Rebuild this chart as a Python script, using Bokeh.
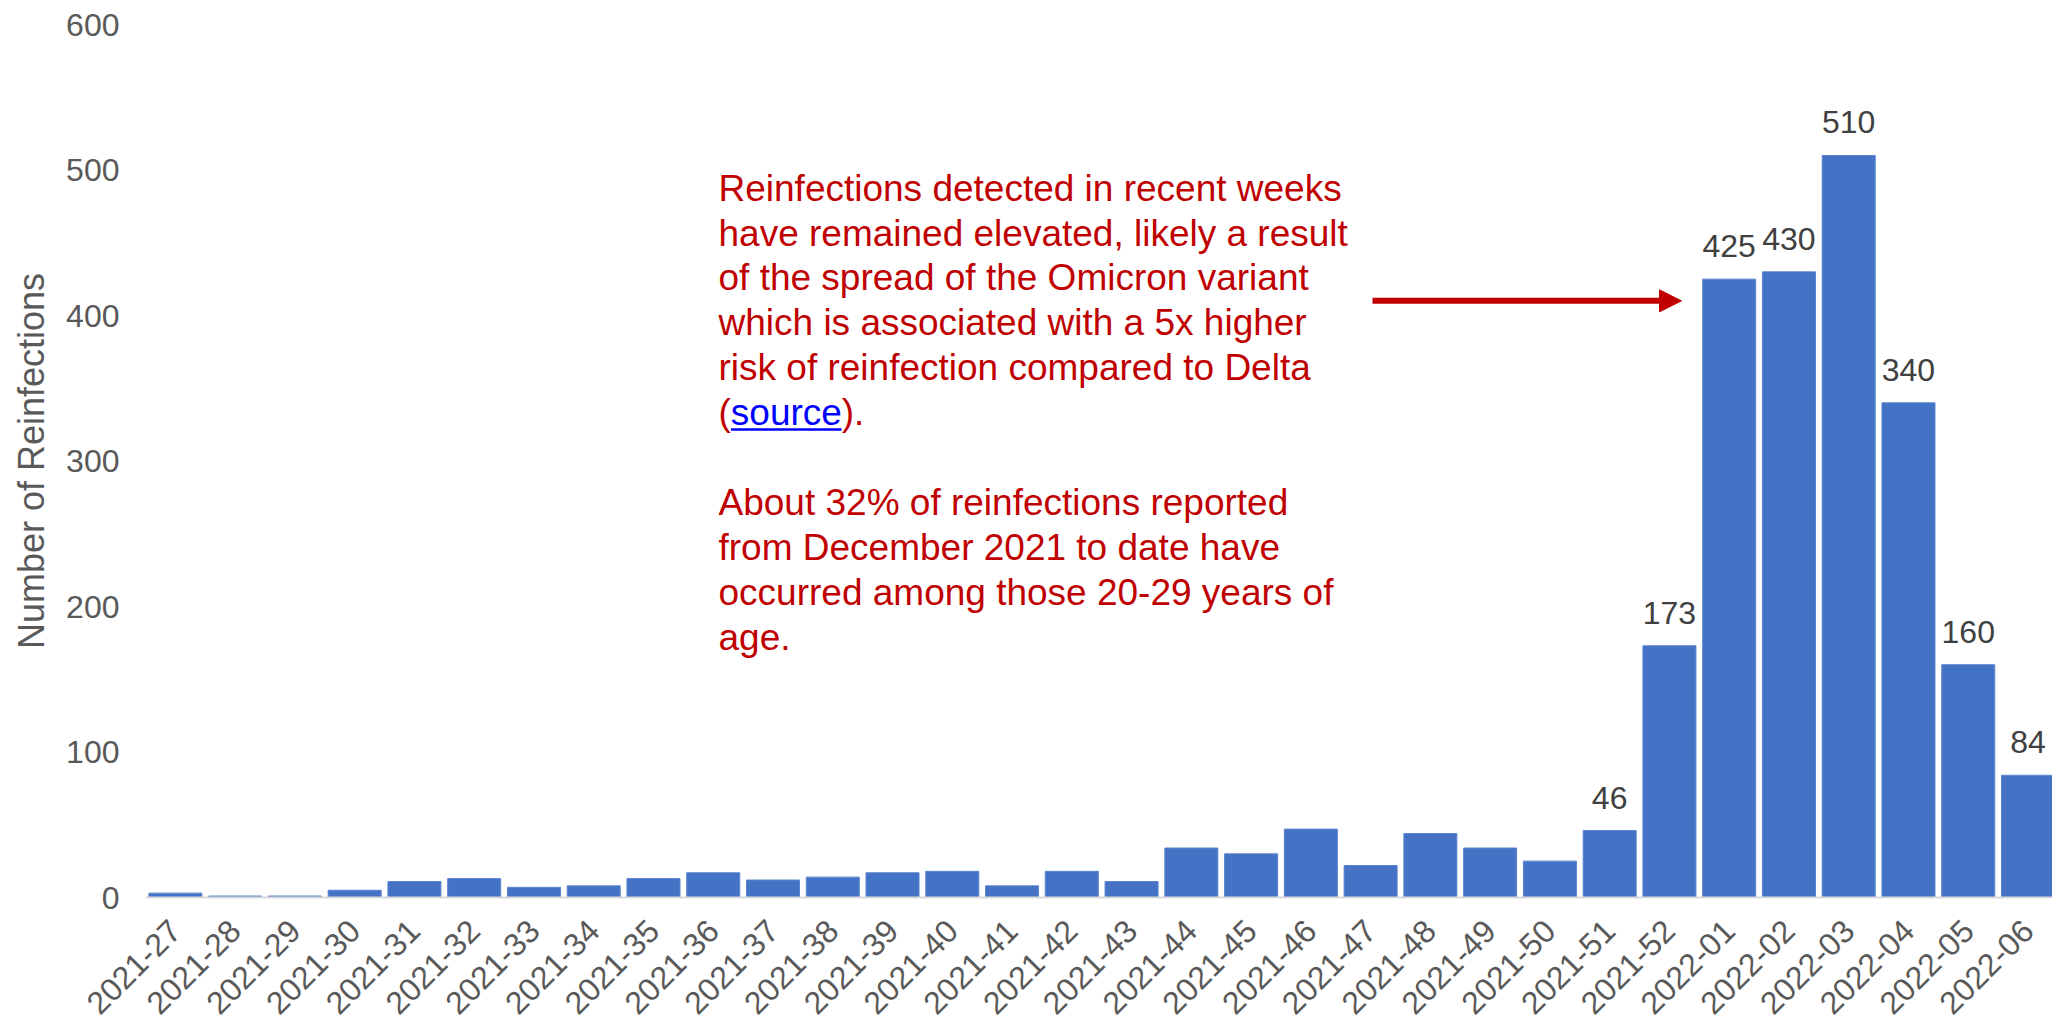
import math
from bokeh.plotting import figure
from bokeh.models import Range1d, FixedTicker, Arrow, NormalHead
from bokeh.core.properties import value
from bokeh.embed import file_html
from bokeh.resources import INLINE

# ---------------- data ----------------
weeks = ["2021-27", "2021-28", "2021-29", "2021-30", "2021-31", "2021-32", "2021-33",
         "2021-34", "2021-35", "2021-36", "2021-37", "2021-38", "2021-39", "2021-40",
         "2021-41", "2021-42", "2021-43", "2021-44", "2021-45", "2021-46", "2021-47",
         "2021-48", "2021-49", "2021-50", "2021-51", "2021-52", "2022-01", "2022-02",
         "2022-03", "2022-04", "2022-05", "2022-06"]
reinfections = [3, 1, 1, 5, 11, 13, 7, 8, 13, 17, 12, 14, 17, 18, 8, 18, 11,
                34, 30, 47, 22, 44, 34, 25, 46, 173, 425, 430, 510, 340, 160, 84]
labeled_weeks = ["2021-51", "2021-52", "2022-01", "2022-02", "2022-03",
                 "2022-04", "2022-05", "2022-06"]
y_ticks = [0, 100, 200, 300, 400, 500, 600]
y_title = "Number of Reinfections"
note_lines_1 = ["Reinfections detected in recent weeks",
                "have remained elevated, likely a result",
                "of the spread of the Omicron variant",
                "which is associated with a 5x higher",
                "risk of reinfection compared to Delta"]
source_parts = ["(", "source", ")."]
note_lines_2 = ["About 32% of reinfections reported",
                "from December 2021 to date have",
                "occurred among those 20-29 years of",
                "age."]

# ---------------- layout ----------------
FONT = "Liberation Sans"
W, H = 2052, 1027
BL, BT, BB = 145, 24, 128
X0, X1 = -0.5, 31.41
Y0, Y1 = 0, 600
frame_w = W - BL
frame_h = H - BT - BB
x_per_px = (X1 - X0) / frame_w
y_per_px = (Y1 - Y0) / frame_h


def xd(px):
    return X0 + (px - BL) * x_per_px


def yd(py):
    return Y1 - (py - BT) * y_per_px


xs = list(range(len(weeks)))

p = figure(width=W, height=H, output_backend="svg", toolbar_location=None,
           x_range=Range1d(X0, X1), y_range=Range1d(Y0, Y1),
           min_border_left=BL, min_border_right=0, min_border_top=BT,
           min_border_bottom=BB)
p.outline_line_color = None
p.grid.visible = False
p.background_fill_color = "white"
p.border_fill_color = "white"

p.vbar(x=xs, top=reinfections, width=0.887, fill_color="#4472C4",
       line_color="#5b84cf", line_width=1)

# x axis
xa = p.xaxis[0]
xa.ticker = FixedTicker(ticks=xs)
xa.major_label_overrides = {i: w for i, w in zip(xs, weeks)}
xa.major_label_orientation = math.pi / 4
xa.axis_line_color = "#d9d9d9"
xa.axis_line_width = 2
xa.major_tick_line_color = None
xa.minor_tick_line_color = None
xa.major_tick_out = 0
xa.major_tick_in = 0
xa.major_label_standoff = 28
xa.major_label_text_font = FONT
xa.major_label_text_font_size = "32px"
xa.major_label_text_color = "#595959"

# y axis
ya = p.yaxis[0]
ya.ticker = FixedTicker(ticks=y_ticks)
ya.axis_line_color = None
ya.major_tick_line_color = None
ya.minor_tick_line_color = None
ya.major_tick_out = 0
ya.major_tick_in = 0
ya.major_label_standoff = 26
ya.major_label_text_font = FONT
ya.major_label_text_font_size = "32px"
ya.major_label_text_color = "#595959"
ya.axis_label = y_title
ya.axis_label_text_font = FONT
ya.axis_label_text_font_size = "36px"
ya.axis_label_text_font_style = "normal"
ya.axis_label_text_color = "#595959"
ya.axis_label_standoff = 11

# value labels
lab_x = [xs[weeks.index(w)] for w in labeled_weeks]
lab_y = [reinfections[weeks.index(w)] for w in labeled_weeks]
p.text(x=lab_x, y=lab_y, text=[str(v) for v in lab_y], text_align="center",
       text_baseline="middle", y_offset=-33, text_font=value(FONT),
       text_font_size="32px", text_color="#404040")

# annotation text
red = "#C00000"
note_x = xd(718)
ys1 = [yd(188 + 45 * k) for k in range(len(note_lines_1))]
p.text(x=[note_x] * len(note_lines_1), y=ys1, text=note_lines_1, text_align="left",
       text_baseline="middle", text_font=value(FONT), text_font_size="37px",
       text_color=red)
ys_src = yd(188 + 45 * 5)
offs = [0, 12.3, 123.3]
cols = [red, "#0000FF", red]
for part, off, col in zip(source_parts, offs, cols):
    p.text(x=[note_x], y=[ys_src], text=[part], x_offset=off, text_align="left",
           text_baseline="middle", text_font=value(FONT), text_font_size="37px",
           text_color=col)
p.segment(x0=[xd(730.5)], x1=[xd(841)], y0=[yd(430)], y1=[yd(430)],
          line_color="#0000FF", line_width=2.5)
ys2 = [yd(188 + 45 * (7 + k)) for k in range(len(note_lines_2))]
p.text(x=[note_x] * len(note_lines_2), y=ys2, text=note_lines_2, text_align="left",
       text_baseline="middle", text_font=value(FONT), text_font_size="37px",
       text_color=red)

# arrow pointing at the Omicron-era bars
arrow_y = yd(301)
p.add_layout(Arrow(x_start=xd(1372), y_start=arrow_y, x_end=xd(1681), y_end=arrow_y,
                   line_color=red, line_width=6,
                   end=NormalHead(size=22, fill_color=red, line_color=red)))

open("out.html", "w").write(file_html(p, INLINE))
